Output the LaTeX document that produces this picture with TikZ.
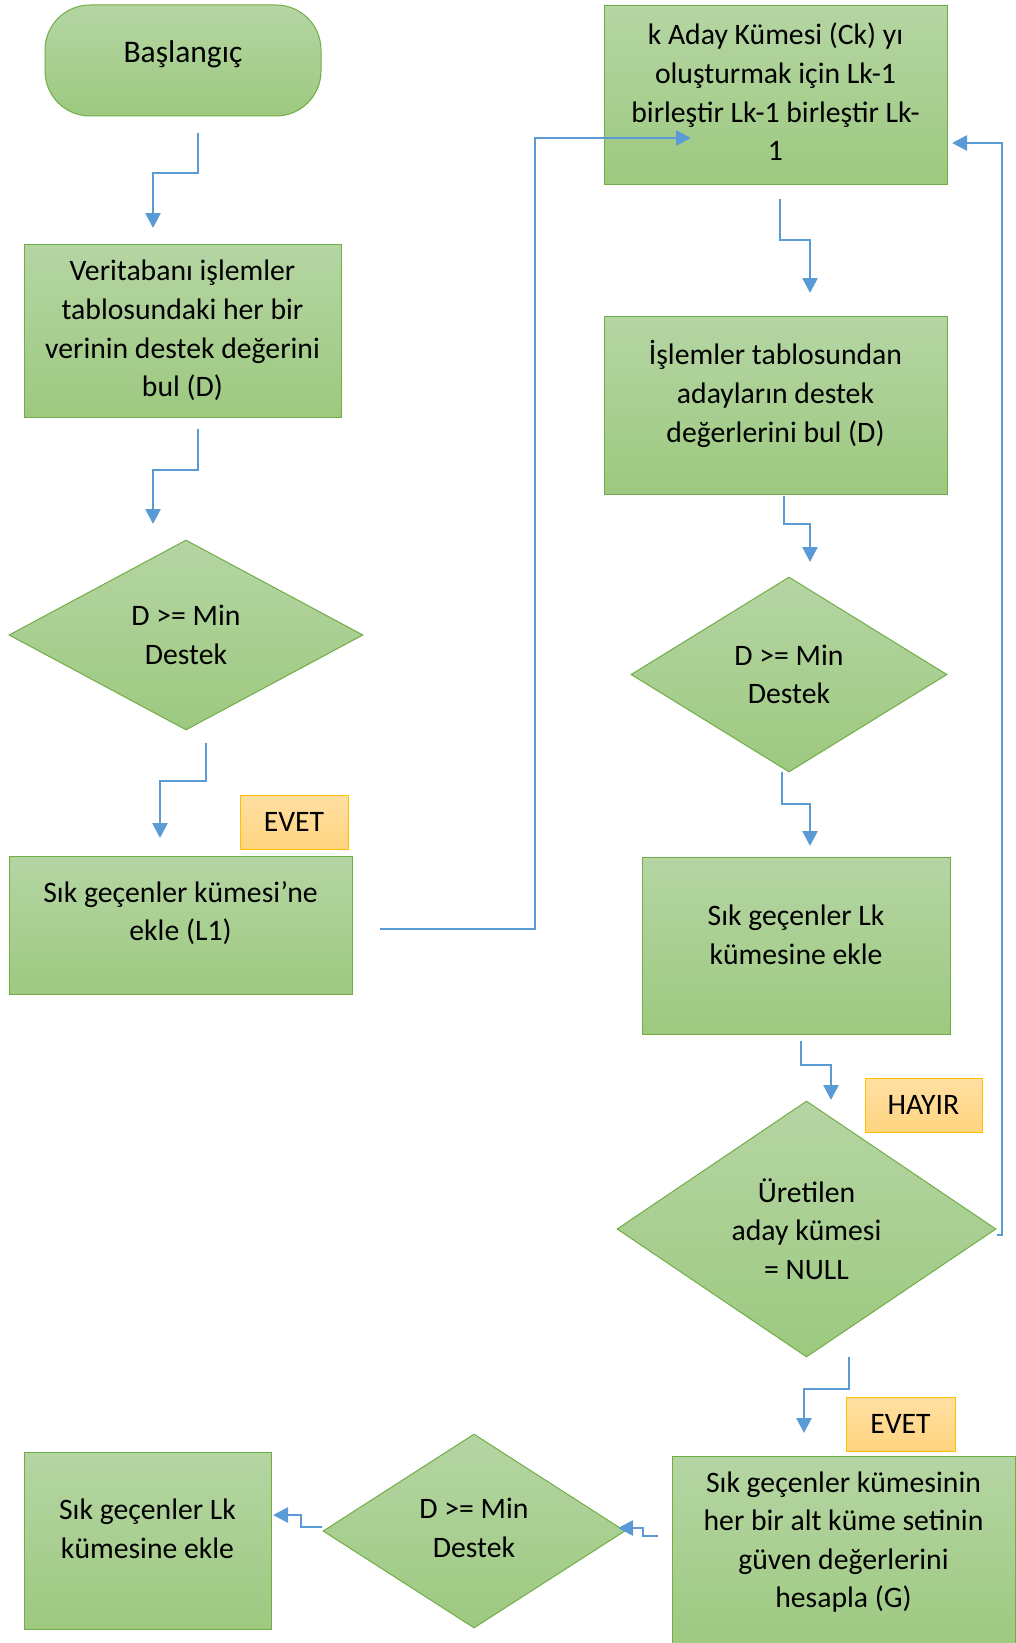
\documentclass[tikz,border=0pt]{standalone}
\usepackage{fontspec}
\setmainfont{Carlito}
\usetikzlibrary{shapes.geometric,arrows.meta}
\definecolor{kututop}{RGB}{181,213,163}
\definecolor{kutubot}{RGB}{157,201,128}
\definecolor{kutucizgi}{RGB}{112,173,71}
\definecolor{etikettop}{RGB}{255,223,162}
\definecolor{etiketbot}{RGB}{255,212,128}
\definecolor{etiketcizgi}{RGB}{255,192,0}
\definecolor{okmavi}{RGB}{91,155,213}

\begin{document}
\begin{tikzpicture}[x=1pt,y=-1pt,
		kutu/.style={draw=kutucizgi, line width=1pt, top color=kututop, bottom color=kutubot, inner sep=0},
		karar/.style={kutu, diamond, aspect=1.8},
		etiket/.style={draw=etiketcizgi, line width=1pt, top color=etikettop, bottom color=etiketbot,
			minimum height=54, font=\fontsize{29.7}{38.6}\selectfont},
		yazi/.style={align=center, inner sep=0, font=\fontsize{29.7}{38.6}\selectfont},
		ok/.style={draw=okmavi, line width=2.6pt, -{Triangle[width=15pt,length=15pt]}}]
		\useasboundingbox (0,0) rectangle (1016,1643);
		
		% sol sutun
		\node[kutu, rounded corners=45, minimum width=276, minimum height=111] (bas) at (183,60.5) {};
		\node[yazi, yshift=6, font=\fontsize{31.5}{38.6}\selectfont] (bas-y) at (bas) {Başlangıç};
		
		\node[kutu, minimum width=317, minimum height=173] (verit) at (182.5,330.5) {};
		\node[yazi] (verit-y) at (verit) {Veritabanı işlemler\\tablosundaki her bir\\verinin destek değerini\\bul (D)};
		
		\node[karar, minimum width=354, minimum height=190] (kar1) at (186,635) {};
		\node[yazi] (kar1-y) at (kar1) {D >= Min\\Destek};
		
		\node[etiket, minimum width=108] (evet1) at (294,822) {EVET};
		
		\node[kutu, minimum width=343, minimum height=138] (sik1) at (180.5,925) {};
		\node[yazi, yshift=12] (sik1-y) at (sik1) {Sık geçenler kümesi’ne\\ekle (L1)};
		
		% sag sutun
		\node[kutu, minimum width=343, minimum height=178] (aday) at (775.5,95) {};
		\node[yazi, yshift=3] (aday-y) at (aday) {k Aday Kümesi (Ck) yı\\oluşturmak için Lk-1\\birleştir Lk-1 birleştir Lk-\\1};
		
		\node[kutu, minimum width=343, minimum height=178] (islem) at (775.5,405) {};
		\node[yazi, yshift=11] (islem-y) at (islem) {İşlemler tablosundan\\adayların destek\\değerlerini bul (D)};
		
		\node[karar, minimum width=316, minimum height=195] (kar2) at (789,674.5) {};
		\node[yazi] (kar2-y) at (kar2) {D >= Min\\Destek};
		
		\node[kutu, minimum width=308, minimum height=177] (sik2) at (796,945.5) {};
		\node[yazi, yshift=11] (sik2-y) at (sik2) {Sık geçenler Lk\\kümesine ekle};
		
		\node[etiket, minimum width=117] (hayir) at (923.5,1105) {HAYIR};
		
		\node[karar, minimum width=379, minimum height=256] (kar3) at (806.5,1229) {};
		\node[yazi] (kar3-y) at (kar3) {Üretilen\\aday kümesi\\= NULL};
		
		\node[etiket, minimum width=109] (evet2) at (900.5,1424) {EVET};
		
		% alt satir
		\node[kutu, minimum width=343, minimum height=194] (guven) at (843.5,1553) {};
		\node[yazi, yshift=11] (guven-y) at (guven) {Sık geçenler kümesinin\\her bir alt küme setinin\\güven değerlerini\\hesapla (G)};
		
		\node[karar, minimum width=302, minimum height=194] (kar4) at (474,1531) {};
		\node[yazi, yshift=3] (kar4-y) at (kar4) {D >= Min\\Destek};
		
		\node[kutu, minimum width=247, minimum height=177] (sik3) at (147.5,1540.5) {};
		\node[yazi, yshift=12] (sik3-y) at (sik3) {Sık geçenler Lk\\kümesine ekle};
		
		% oklar
		\foreach \n/\ax/\ay/\m/\bx/\by in {1/198/133/40/153/228, 2/198/429/41/153/524,
			3/206/743/38/160/838, 5/780/199/41/810/293, 6/784/496/28/810/562,
			7/782/772/32/810/846, 8/801/1041/24/831/1100, 10/849/1357/32/804/1433} {
			\coordinate (a\n) at (\ax,\ay);
			\coordinate (b\n) at (\bx,\by);
			\draw[ok] (a\n) -- ++(0,\m) -| (b\n);
		}
		\coordinate (a4) at (380,929);
		\coordinate (b4) at (691,138);
		\draw[ok] (a4) -- ++(155,0) |- (b4);
		\coordinate (a9) at (997,1235);
		\coordinate (b9) at (952,143);
		\draw[ok] (a9) -- ++(5,0) |- (b9);
		\coordinate (a11) at (658,1536);
		\coordinate (b11) at (618,1528);
		\draw[ok] (a11) -- ++(-15,0) |- (b11);
		\coordinate (a12) at (322,1527);
		\coordinate (b12) at (273,1515);
		\draw[ok] (a12) -- ++(-21,0) |- (b12);
	\end{tikzpicture}
\end{document}
